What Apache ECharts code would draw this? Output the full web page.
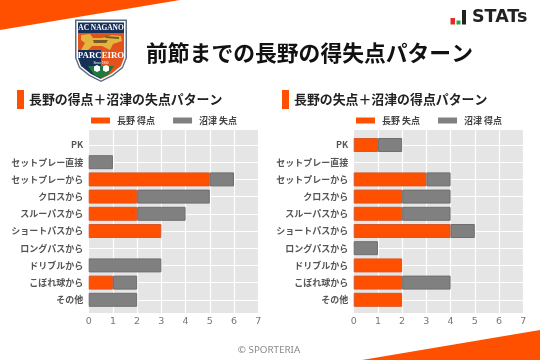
<!DOCTYPE html>
<html><head><meta charset="utf-8">
<style>html,body{margin:0;padding:0;background:#fff}#c{width:540px;height:360px}</style>
<script src="https://cdn.jsdelivr.net/npm/echarts@6/dist/echarts.min.js"></script>
</head><body><div id="c"></div>
<script>
const categories = ['PK','セットプレー直接','セットプレーから','クロスから','スルーパスから','ショートパスから','ロングパスから','ドリブルから','こぼれ球から','その他'];
const naganoScored = [0,0,5,2,2,3,0,0,1,0];
const numazuConceded = [0,1,1,3,2,0,0,3,1,2];
const naganoConceded = [1,0,3,2,2,4,0,2,2,2];
const numazuScored = [1,0,1,2,2,1,1,0,2,0];
const xTicks = [0,1,2,3,4,5,6,7];
const ORANGE='#ff5000', GRAY='#808080';
const JP='"Noto Sans CJK JP","Noto Sans",sans-serif';
const chart = echarts.init(document.getElementById('c'),null,{renderer:'canvas'});
const lefts=[88.7,353.7], W=169.5;
const grids=[],xAxes=[],yAxes=[],series=[];
function panel(i,names,a,b){
  const L=lefts[i];
  grids.push({left:L,top:130,width:W,height:183,show:true,backgroundColor:'#e5e5e5',borderWidth:0,z:0});
  grids.push({left:L,top:136.4,width:W,height:172,show:false,z:1});
  const bgIdx=grids.length-2, mainIdx=grids.length-1;
  xAxes.push({gridIndex:bgIdx,type:'value',min:0,max:7,interval:1,
    axisLine:{show:false},axisTick:{show:false},
    axisLabel:{color:'#777',fontSize:9.5,fontFamily:'"DejaVu Sans",sans-serif',margin:4,
      formatter:v=>xTicks.includes(v)?String(v):''},
    splitLine:{show:true,lineStyle:{color:'#fff',width:1.2}}});
  yAxes.push({gridIndex:bgIdx,type:'value',min:0,max:1,show:false});
  xAxes.push({gridIndex:mainIdx,type:'value',min:0,max:7,interval:1,show:false,splitLine:{show:false}});
  yAxes.push({gridIndex:mainIdx,type:'category',inverse:true,data:categories,
    axisLine:{show:false},axisTick:{show:false},
    axisLabel:{color:'#555',fontSize:9,fontWeight:'bold',fontFamily:JP,margin:5.5},
    splitLine:{show:true,alignWithLabel:true,lineStyle:{color:'#fff',width:1.2}}});
  const mk=(name,vals,color,border)=>({name,type:'bar',stack:'s'+i,xAxisIndex:mainIdx,yAxisIndex:mainIdx,
    barWidth:14,data:vals.map(v=>v===0?'-':v),animation:false,
    itemStyle:{color,borderColor:border,borderWidth:1},silent:true});
  series.push(mk(names[0],a,ORANGE,'#d9562a'),mk(names[1],b,GRAY,'#6e6e6e'));
}
panel(0,['長野 得点','沼津 失点'],naganoScored,numazuConceded);
panel(1,['長野 失点','沼津 得点'],naganoConceded,numazuScored);
const poly=(points,fill,z)=>({type:'polygon',shape:{points},style:{fill},z:z||10,silent:true});
const txt=(x,y,text,font,fill,align,z)=>({type:'text',x,y,style:{text,font,fill,textAlign:align||'left',textVerticalAlign:'middle'},z:z||20,silent:true});
const shield=[
  poly([[75,19.5],[127,19.5],[127,58],[123,68],[113,76],[101,82],[89,76],[79,68],[75,58]],'#5b6b80',10),
  poly([[76.5,21],[125.5,21],[125.5,58],[122,67],[112,75],[101,80.5],[90,75],[80,67],[76.5,58]],'#fff',11),
  poly([[78,22.5],[124,22.5],[124,33],[78,33]],'#17305a',12),
  poly([[78,33],[124,33],[124,50],[78,50]],'#e2521c',12),
  poly([[78,50],[101,50],[101,79],[91,74],[81,66],[78,58]],'#17305a',12),
  poly([[101,50],[124,50],[124,58],[121,66],[111,74],[101,79]],'#e2521c',12),
  poly([[81,35],[90,34],[93,38],[102,38],[112,35],[121,36],[122,41],[113,44],[110,50],[102,46],[92,46],[88,50],[81,50],[85,43],[81,40]],'#e3b53f',13),
  poly([[93,40],[108,40],[106,43],[94,43]],'#7a5a22',14),
  poly([[104,36],[119,37],[119,39],[106,38]],'#7a5a22',14),
  poly([[88,66],[114,66],[108,75],[101,78],[94,75]],'#1e7a3c',13),
  poly([[94,66.5],[97,65],[100,66.5],[100,70.5],[97,72],[94,70.5]],'#fff',14),
  poly([[103,66.5],[106,65],[109,66.5],[109,70.5],[106,72],[103,70.5]],'#fff',14),
  txt(101,28,'AC NAGANO','bold 7.4px "Liberation Serif",serif','#fff','center'),
  txt(101,56,'PARCEIRO','bold 8.8px "Liberation Serif",serif','#fff','center'),
  txt(101,63,'Since 1990','3px "Liberation Sans",sans-serif','#fff','center')
];
const graphicEls=[
  poly([[0,0],[180,0],[0,30]],ORANGE),
  poly([[362,360],[540,330],[540,360]],ORANGE),
  ...shield,
  poly([[450.5,18],[455,18],[455,24.5],[450.5,24.5]],'#e02b2b'),
  poly([[456.5,20.5],[460.5,20.5],[460.5,24.5],[456.5,24.5]],'#2aa24a'),
  poly([[462,10],[466,10],[466,24.5],[462,24.5]],'#222'),
  txt(472,17.5,'STATs','bold 17.5px "DejaVu Sans",sans-serif','#222'),
  txt(146,53,'前節までの長野の得失点パターン','bold 21.8px '+JP,'#111'),
  poly([[17,90],[24,90],[24,109],[17,109]],ORANGE),
  txt(29,99.5,'長野の得点＋沼津の失点パターン','bold 12.9px '+JP,'#222'),
  poly([[282,90],[289,90],[289,109],[282,109]],ORANGE),
  txt(294,99.5,'長野の失点＋沼津の得点パターン','bold 12.9px '+JP,'#222'),
  txt(269,350,'© SPORTERIA','9.8px "Noto Sans",sans-serif','#888','center')
];
const legendBase={itemWidth:19,itemHeight:6,itemGap:18,top:116,padding:0,
  itemStyle:{borderWidth:0},
  textStyle:{color:'#444',fontSize:9,fontWeight:'bold',fontFamily:JP,padding:[0,0,0,2]},
  icon:'rect',selectedMode:false};
chart.setOption({
  animation:false,backgroundColor:'#fff',
  grid:grids,xAxis:xAxes,yAxis:yAxes,series,
  legend:[
    {...legendBase,left:91,data:['長野 得点','沼津 失点']},
    {...legendBase,left:356,data:['長野 失点','沼津 得点']}
  ],
  graphic:{elements:graphicEls}
});
</script></body></html>
